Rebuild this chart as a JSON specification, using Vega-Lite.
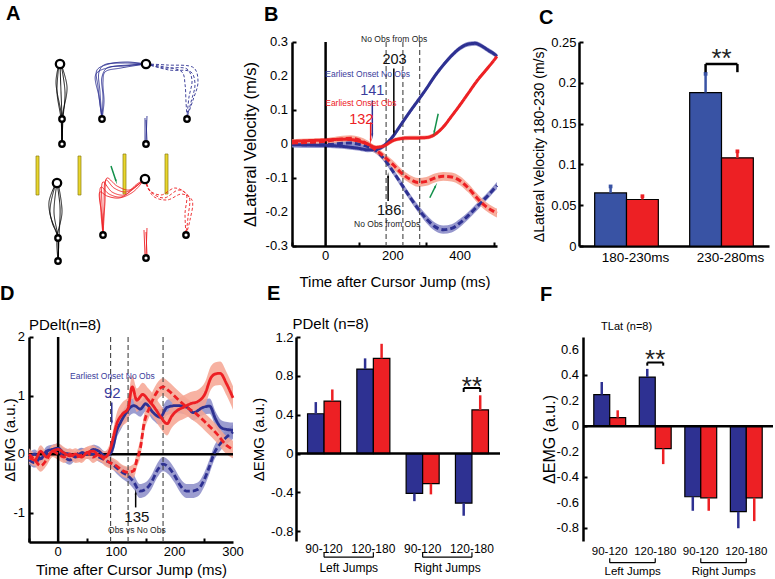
{
"$schema":"https://vega.github.io/schema/vega-lite/v6.json",
"background":"white",
"padding":{"left":0,"top":4,"right":0,"bottom":0},
"config":{
 "font":"Liberation Sans",
 "view":{"stroke":null},
 "axis":{"domainColor":"black","domainWidth":2.5,"tickColor":"black","tickWidth":2,"tickSize":-4,"grid":false,"labelColor":"black","titleColor":"black","titleFontWeight":"normal","labelFontSize":13,"titleFontSize":15,"labelFlush":false,"labelOverlap":false},
 "title":{"fontSize":20,"fontWeight":"bold","anchor":"start","frame":"group","color":"black"}
},
"datasets":{
 "aBars":[{"x1":37,"x2":40,"y1":154,"y2":193},{"x1":79,"x2":82,"y1":154,"y2":193},{"x1":124,"x2":127,"y1":152,"y2":192},{"x1":166,"x2":169,"y1":152,"y2":192}],
 "aCircles":[{"x":61,"y":62,"k":"via"},{"x":63,"y":117,"k":"tgt"},{"x":63,"y":142,"k":"tgt"},{"x":103,"y":117,"k":"tgt"},{"x":147,"y":62,"k":"via"},{"x":188,"y":117,"k":"tgt"},{"x":147,"y":142,"k":"tgt"},{"x":58,"y":181,"k":"via"},{"x":59,"y":236,"k":"tgt"},{"x":59,"y":259,"k":"tgt"},{"x":104,"y":233,"k":"tgt"},{"x":146,"y":177,"k":"via"},{"x":187,"y":233,"k":"tgt"},{"x":147,"y":256,"k":"tgt"}],
 "aArrow":[{"x1":112,"y1":164,"x2":117,"y2":179,"ang":162}],
 "aPaths":[
  {"id":"k1","c":"base","d":"solid","i":0,"x":63,"y":142},{"id":"k1","c":"base","d":"solid","i":1,"x":63,"y":117},{"id":"k1","c":"base","d":"solid","i":2,"x":62,"y":90},{"id":"k1","c":"base","d":"solid","i":3,"x":61,"y":62},
  {"id":"k2","c":"base","d":"solid","i":0,"x":63,"y":142},{"id":"k2","c":"base","d":"solid","i":1,"x":64,"y":117},{"id":"k2","c":"base","d":"solid","i":2,"x":66,"y":90},{"id":"k2","c":"base","d":"solid","i":3,"x":62,"y":62},
  {"id":"k3","c":"base","d":"solid","i":0,"x":63,"y":142},{"id":"k3","c":"base","d":"solid","i":1,"x":62,"y":117},{"id":"k3","c":"base","d":"solid","i":2,"x":58,"y":90},{"id":"k3","c":"base","d":"solid","i":3,"x":60,"y":62},
  {"id":"k4","c":"base","d":"solid","i":0,"x":63,"y":142},{"id":"k4","c":"base","d":"solid","i":1,"x":63,"y":117},{"id":"k4","c":"base","d":"solid","i":2,"x":68,"y":85},{"id":"k4","c":"base","d":"solid","i":3,"x":62,"y":62},
  {"id":"k5","c":"base","d":"solid","i":0,"x":63,"y":142},{"id":"k5","c":"base","d":"solid","i":1,"x":63,"y":117},{"id":"k5","c":"base","d":"solid","i":2,"x":57,"y":80},{"id":"k5","c":"base","d":"solid","i":3,"x":60,"y":62},
  {"id":"bs1","c":"noobs","d":"solid","i":0,"x":146,"y":139},{"id":"bs1","c":"noobs","d":"solid","i":1,"x":146,"y":116},
  {"id":"bs2","c":"noobs","d":"solid","i":0,"x":147,"y":139},{"id":"bs2","c":"noobs","d":"solid","i":1,"x":148,"y":114},
  {"id":"bs3","c":"noobs","d":"solid","i":0,"x":148,"y":139},{"id":"bs3","c":"noobs","d":"solid","i":1,"x":147,"y":118},
  {"id":"b1","c":"noobs","d":"solid","i":0,"x":147,"y":62},{"id":"b1","c":"noobs","d":"solid","i":1,"x":125,"y":61},{"id":"b1","c":"noobs","d":"solid","i":2,"x":105,"y":63},{"id":"b1","c":"noobs","d":"solid","i":3,"x":100,"y":70},{"id":"b1","c":"noobs","d":"solid","i":4,"x":101,"y":90},{"id":"b1","c":"noobs","d":"solid","i":5,"x":103,"y":117},
  {"id":"b2","c":"noobs","d":"solid","i":0,"x":147,"y":62},{"id":"b2","c":"noobs","d":"solid","i":1,"x":125,"y":64},{"id":"b2","c":"noobs","d":"solid","i":2,"x":108,"y":66},{"id":"b2","c":"noobs","d":"solid","i":3,"x":103,"y":75},{"id":"b2","c":"noobs","d":"solid","i":4,"x":104,"y":95},{"id":"b2","c":"noobs","d":"solid","i":5,"x":103,"y":117},
  {"id":"b3","c":"noobs","d":"solid","i":0,"x":147,"y":62},{"id":"b3","c":"noobs","d":"solid","i":1,"x":128,"y":60},{"id":"b3","c":"noobs","d":"solid","i":2,"x":110,"y":62},{"id":"b3","c":"noobs","d":"solid","i":3,"x":98,"y":68},{"id":"b3","c":"noobs","d":"solid","i":4,"x":99,"y":85},{"id":"b3","c":"noobs","d":"solid","i":5,"x":103,"y":117},
  {"id":"b4","c":"noobs","d":"solid","i":0,"x":147,"y":62},{"id":"b4","c":"noobs","d":"solid","i":1,"x":122,"y":66},{"id":"b4","c":"noobs","d":"solid","i":2,"x":106,"y":70},{"id":"b4","c":"noobs","d":"solid","i":3,"x":104,"y":80},{"id":"b4","c":"noobs","d":"solid","i":4,"x":105,"y":100},{"id":"b4","c":"noobs","d":"solid","i":5,"x":103,"y":117},
  {"id":"b5","c":"noobs","d":"solid","i":0,"x":147,"y":62},{"id":"b5","c":"noobs","d":"solid","i":1,"x":130,"y":63},{"id":"b5","c":"noobs","d":"solid","i":2,"x":112,"y":65},{"id":"b5","c":"noobs","d":"solid","i":3,"x":97,"y":72},{"id":"b5","c":"noobs","d":"solid","i":4,"x":100,"y":95},{"id":"b5","c":"noobs","d":"solid","i":5,"x":103,"y":117},
  {"id":"bd1","c":"noobs","d":"dashed","i":0,"x":147,"y":62},{"id":"bd1","c":"noobs","d":"dashed","i":1,"x":165,"y":66},{"id":"bd1","c":"noobs","d":"dashed","i":2,"x":188,"y":67},{"id":"bd1","c":"noobs","d":"dashed","i":3,"x":193,"y":78},{"id":"bd1","c":"noobs","d":"dashed","i":4,"x":190,"y":95},{"id":"bd1","c":"noobs","d":"dashed","i":5,"x":188,"y":115},
  {"id":"bd2","c":"noobs","d":"dashed","i":0,"x":147,"y":62},{"id":"bd2","c":"noobs","d":"dashed","i":1,"x":170,"y":68},{"id":"bd2","c":"noobs","d":"dashed","i":2,"x":192,"y":70},{"id":"bd2","c":"noobs","d":"dashed","i":3,"x":196,"y":82},{"id":"bd2","c":"noobs","d":"dashed","i":4,"x":192,"y":100},{"id":"bd2","c":"noobs","d":"dashed","i":5,"x":188,"y":115},
  {"id":"bd3","c":"noobs","d":"dashed","i":0,"x":147,"y":62},{"id":"bd3","c":"noobs","d":"dashed","i":1,"x":160,"y":64},{"id":"bd3","c":"noobs","d":"dashed","i":2,"x":183,"y":70},{"id":"bd3","c":"noobs","d":"dashed","i":3,"x":186,"y":82},{"id":"bd3","c":"noobs","d":"dashed","i":4,"x":187,"y":100},{"id":"bd3","c":"noobs","d":"dashed","i":5,"x":188,"y":115},
  {"id":"bd4","c":"noobs","d":"dashed","i":0,"x":147,"y":62},{"id":"bd4","c":"noobs","d":"dashed","i":1,"x":168,"y":63},{"id":"bd4","c":"noobs","d":"dashed","i":2,"x":195,"y":66},{"id":"bd4","c":"noobs","d":"dashed","i":3,"x":199,"y":80},{"id":"bd4","c":"noobs","d":"dashed","i":4,"x":194,"y":98},{"id":"bd4","c":"noobs","d":"dashed","i":5,"x":188,"y":115},
  {"id":"k6","c":"base","d":"solid","i":0,"x":59,"y":259},{"id":"k6","c":"base","d":"solid","i":1,"x":59,"y":236},{"id":"k6","c":"base","d":"solid","i":2,"x":55,"y":210},{"id":"k6","c":"base","d":"solid","i":3,"x":58,"y":181},
  {"id":"k7","c":"base","d":"solid","i":0,"x":59,"y":259},{"id":"k7","c":"base","d":"solid","i":1,"x":59,"y":236},{"id":"k7","c":"base","d":"solid","i":2,"x":51,"y":210},{"id":"k7","c":"base","d":"solid","i":3,"x":57,"y":181},
  {"id":"k8","c":"base","d":"solid","i":0,"x":59,"y":259},{"id":"k8","c":"base","d":"solid","i":1,"x":60,"y":236},{"id":"k8","c":"base","d":"solid","i":2,"x":61,"y":205},{"id":"k8","c":"base","d":"solid","i":3,"x":58,"y":181},
  {"id":"k9","c":"base","d":"solid","i":0,"x":59,"y":259},{"id":"k9","c":"base","d":"solid","i":1,"x":59,"y":236},{"id":"k9","c":"base","d":"solid","i":2,"x":53,"y":220},{"id":"k9","c":"base","d":"solid","i":3,"x":50,"y":200},{"id":"k9","c":"base","d":"solid","i":4,"x":57,"y":181},
  {"id":"k10","c":"base","d":"solid","i":0,"x":59,"y":259},{"id":"k10","c":"base","d":"solid","i":1,"x":58,"y":236},{"id":"k10","c":"base","d":"solid","i":2,"x":63,"y":210},{"id":"k10","c":"base","d":"solid","i":3,"x":59,"y":181},
  {"id":"rs1","c":"obs","d":"solid","i":0,"x":146,"y":253},{"id":"rs1","c":"obs","d":"solid","i":1,"x":145,"y":228},
  {"id":"rs2","c":"obs","d":"solid","i":0,"x":147,"y":253},{"id":"rs2","c":"obs","d":"solid","i":1,"x":148,"y":226},
  {"id":"rs3","c":"obs","d":"solid","i":0,"x":148,"y":253},{"id":"rs3","c":"obs","d":"solid","i":1,"x":147,"y":230},
  {"id":"r1","c":"obs","d":"solid","i":0,"x":146,"y":177},{"id":"r1","c":"obs","d":"solid","i":1,"x":135,"y":186},{"id":"r1","c":"obs","d":"solid","i":2,"x":125,"y":193},{"id":"r1","c":"obs","d":"solid","i":3,"x":113,"y":190},{"id":"r1","c":"obs","d":"solid","i":4,"x":104,"y":180},{"id":"r1","c":"obs","d":"solid","i":5,"x":103,"y":205},{"id":"r1","c":"obs","d":"solid","i":6,"x":104,"y":233},
  {"id":"r2","c":"obs","d":"solid","i":0,"x":146,"y":177},{"id":"r2","c":"obs","d":"solid","i":1,"x":137,"y":184},{"id":"r2","c":"obs","d":"solid","i":2,"x":127,"y":190},{"id":"r2","c":"obs","d":"solid","i":3,"x":115,"y":186},{"id":"r2","c":"obs","d":"solid","i":4,"x":107,"y":178},{"id":"r2","c":"obs","d":"solid","i":5,"x":105,"y":205},{"id":"r2","c":"obs","d":"solid","i":6,"x":104,"y":233},
  {"id":"r3","c":"obs","d":"solid","i":0,"x":146,"y":177},{"id":"r3","c":"obs","d":"solid","i":1,"x":133,"y":188},{"id":"r3","c":"obs","d":"solid","i":2,"x":122,"y":195},{"id":"r3","c":"obs","d":"solid","i":3,"x":110,"y":192},{"id":"r3","c":"obs","d":"solid","i":4,"x":102,"y":185},{"id":"r3","c":"obs","d":"solid","i":5,"x":102,"y":210},{"id":"r3","c":"obs","d":"solid","i":6,"x":104,"y":233},
  {"id":"r4","c":"obs","d":"solid","i":0,"x":146,"y":177},{"id":"r4","c":"obs","d":"solid","i":1,"x":138,"y":182},{"id":"r4","c":"obs","d":"solid","i":2,"x":130,"y":188},{"id":"r4","c":"obs","d":"solid","i":3,"x":118,"y":184},{"id":"r4","c":"obs","d":"solid","i":4,"x":108,"y":176},{"id":"r4","c":"obs","d":"solid","i":5,"x":106,"y":200},{"id":"r4","c":"obs","d":"solid","i":6,"x":104,"y":233},
  {"id":"r5","c":"obs","d":"solid","i":0,"x":146,"y":177},{"id":"r5","c":"obs","d":"solid","i":1,"x":134,"y":190},{"id":"r5","c":"obs","d":"solid","i":2,"x":120,"y":196},{"id":"r5","c":"obs","d":"solid","i":3,"x":108,"y":194},{"id":"r5","c":"obs","d":"solid","i":4,"x":101,"y":190},{"id":"r5","c":"obs","d":"solid","i":5,"x":103,"y":215},{"id":"r5","c":"obs","d":"solid","i":6,"x":104,"y":233},
  {"id":"rd1","c":"obs","d":"dashed","i":0,"x":146,"y":177},{"id":"rd1","c":"obs","d":"dashed","i":1,"x":152,"y":190},{"id":"rd1","c":"obs","d":"dashed","i":2,"x":165,"y":196},{"id":"rd1","c":"obs","d":"dashed","i":3,"x":180,"y":188},{"id":"rd1","c":"obs","d":"dashed","i":4,"x":190,"y":195},{"id":"rd1","c":"obs","d":"dashed","i":5,"x":189,"y":215},{"id":"rd1","c":"obs","d":"dashed","i":6,"x":187,"y":233},
  {"id":"rd2","c":"obs","d":"dashed","i":0,"x":146,"y":177},{"id":"rd2","c":"obs","d":"dashed","i":1,"x":154,"y":194},{"id":"rd2","c":"obs","d":"dashed","i":2,"x":168,"y":198},{"id":"rd2","c":"obs","d":"dashed","i":3,"x":183,"y":192},{"id":"rd2","c":"obs","d":"dashed","i":4,"x":193,"y":198},{"id":"rd2","c":"obs","d":"dashed","i":5,"x":191,"y":218},{"id":"rd2","c":"obs","d":"dashed","i":6,"x":187,"y":233},
  {"id":"rd3","c":"obs","d":"dashed","i":0,"x":146,"y":177},{"id":"rd3","c":"obs","d":"dashed","i":1,"x":150,"y":188},{"id":"rd3","c":"obs","d":"dashed","i":2,"x":162,"y":193},{"id":"rd3","c":"obs","d":"dashed","i":3,"x":176,"y":186},{"id":"rd3","c":"obs","d":"dashed","i":4,"x":187,"y":192},{"id":"rd3","c":"obs","d":"dashed","i":5,"x":186,"y":212},{"id":"rd3","c":"obs","d":"dashed","i":6,"x":187,"y":233}
 ],
 "bLines":[
  {"s":"NL","t":-100,"v":-0.002,"se":0.007},{"s":"NL","t":-50,"v":-0.003,"se":0.007},{"s":"NL","t":0,"v":-0.004,"se":0.007},{"s":"NL","t":50,"v":-0.007,"se":0.007},{"s":"NL","t":100,"v":-0.013,"se":0.007},{"s":"NL","t":125,"v":-0.017,"se":0.007},{"s":"NL","t":150,"v":-0.016,"se":0.007},{"s":"NL","t":175,"v":-0.004,"se":0.007},{"s":"NL","t":200,"v":0.022,"se":0.007},{"s":"NL","t":225,"v":0.058,"se":0.007},{"s":"NL","t":250,"v":0.094,"se":0.007},{"s":"NL","t":275,"v":0.128,"se":0.007},{"s":"NL","t":300,"v":0.163,"se":0.007},{"s":"NL","t":325,"v":0.2,"se":0.007},{"s":"NL","t":350,"v":0.232,"se":0.007},{"s":"NL","t":375,"v":0.26,"se":0.007},{"s":"NL","t":400,"v":0.282,"se":0.007},{"s":"NL","t":425,"v":0.294,"se":0.007},{"s":"NL","t":445,"v":0.296,"se":0.007},{"s":"NL","t":465,"v":0.288,"se":0.007},{"s":"NL","t":485,"v":0.275,"se":0.007},{"s":"NL","t":500,"v":0.266,"se":0.007},{"s":"NL","t":510,"v":0.258,"se":0.007},
  {"s":"NR","t":-100,"v":-0.001,"se":0.009},{"s":"NR","t":-50,"v":-0.002,"se":0.009},{"s":"NR","t":0,"v":-0.002,"se":0.009},{"s":"NR","t":50,"v":0.002,"se":0.009},{"s":"NR","t":75,"v":0.003,"se":0.009},{"s":"NR","t":100,"v":-0.001,"se":0.009},{"s":"NR","t":125,"v":-0.008,"se":0.009},{"s":"NR","t":150,"v":-0.02,"se":0.009},{"s":"NR","t":175,"v":-0.045,"se":0.009},{"s":"NR","t":200,"v":-0.08,"se":0.009},{"s":"NR","t":225,"v":-0.117,"se":0.01},{"s":"NR","t":250,"v":-0.155,"se":0.01},{"s":"NR","t":275,"v":-0.19,"se":0.011},{"s":"NR","t":300,"v":-0.22,"se":0.012},{"s":"NR","t":325,"v":-0.243,"se":0.012},{"s":"NR","t":350,"v":-0.252,"se":0.012},{"s":"NR","t":375,"v":-0.248,"se":0.012},{"s":"NR","t":400,"v":-0.232,"se":0.012},{"s":"NR","t":425,"v":-0.21,"se":0.011},{"s":"NR","t":450,"v":-0.185,"se":0.011},{"s":"NR","t":475,"v":-0.16,"se":0.01},{"s":"NR","t":500,"v":-0.133,"se":0.01},{"s":"NR","t":510,"v":-0.122,"se":0.01},
  {"s":"OL","t":-100,"v":0.008,"se":0.006},{"s":"OL","t":-50,"v":0.01,"se":0.006},{"s":"OL","t":0,"v":0.012,"se":0.006},{"s":"OL","t":50,"v":0.014,"se":0.006},{"s":"OL","t":75,"v":0.013,"se":0.006},{"s":"OL","t":100,"v":0.008,"se":0.006},{"s":"OL","t":125,"v":0.0,"se":0.006},{"s":"OL","t":150,"v":-0.01,"se":0.006},{"s":"OL","t":175,"v":-0.005,"se":0.006},{"s":"OL","t":200,"v":0.01,"se":0.006},{"s":"OL","t":225,"v":0.016,"se":0.006},{"s":"OL","t":250,"v":0.018,"se":0.006},{"s":"OL","t":275,"v":0.018,"se":0.006},{"s":"OL","t":300,"v":0.019,"se":0.006},{"s":"OL","t":325,"v":0.028,"se":0.006},{"s":"OL","t":350,"v":0.05,"se":0.006},{"s":"OL","t":375,"v":0.082,"se":0.006},{"s":"OL","t":400,"v":0.115,"se":0.006},{"s":"OL","t":425,"v":0.15,"se":0.006},{"s":"OL","t":450,"v":0.185,"se":0.006},{"s":"OL","t":475,"v":0.215,"se":0.006},{"s":"OL","t":500,"v":0.245,"se":0.006},{"s":"OL","t":510,"v":0.258,"se":0.006},
  {"s":"OR","t":-100,"v":0.003,"se":0.008},{"s":"OR","t":-50,"v":0.005,"se":0.008},{"s":"OR","t":0,"v":0.008,"se":0.008},{"s":"OR","t":50,"v":0.015,"se":0.009},{"s":"OR","t":75,"v":0.017,"se":0.009},{"s":"OR","t":100,"v":0.012,"se":0.009},{"s":"OR","t":125,"v":0.0,"se":0.01},{"s":"OR","t":150,"v":-0.018,"se":0.01},{"s":"OR","t":175,"v":-0.038,"se":0.011},{"s":"OR","t":200,"v":-0.06,"se":0.012},{"s":"OR","t":225,"v":-0.085,"se":0.012},{"s":"OR","t":250,"v":-0.103,"se":0.012},{"s":"OR","t":275,"v":-0.113,"se":0.013},{"s":"OR","t":300,"v":-0.11,"se":0.013},{"s":"OR","t":325,"v":-0.1,"se":0.013},{"s":"OR","t":350,"v":-0.095,"se":0.013},{"s":"OR","t":375,"v":-0.097,"se":0.013},{"s":"OR","t":400,"v":-0.108,"se":0.013},{"s":"OR","t":425,"v":-0.13,"se":0.013},{"s":"OR","t":450,"v":-0.158,"se":0.013},{"s":"OR","t":475,"v":-0.182,"se":0.013},{"s":"OR","t":500,"v":-0.198,"se":0.013},{"s":"OR","t":510,"v":-0.203,"se":0.013}
 ],
 "bV":[{"t":180},{"t":230},{"t":280}],
 "zeroT":[{"t":0}],
 "zeroV":[{"v":0}],
 "bYLab":[{"t":-100,"v":0.3,"lab":"0.3"},{"t":-100,"v":0.2,"lab":"0.2"},{"t":-100,"v":0.1,"lab":"0.1"},{"t":-100,"v":0,"lab":"0"},{"t":-100,"v":-0.1,"lab":"-0.1"},{"t":-100,"v":-0.2,"lab":"-0.2"},{"t":-100,"v":-0.3,"lab":"-0.3"}],
 "bXLab":[{"t":0,"v":-0.3,"lab":"0"},{"t":200,"v":-0.3,"lab":"200"},{"t":400,"v":-0.3,"lab":"400"}],
 "bArrows":[
  {"t1":203,"v1":0.222,"t2":203,"v2":0.034,"c":"k","ang":180},
  {"t1":139,"v1":0.128,"t2":139,"v2":0.025,"c":"b","ang":180},
  {"t1":134,"v1":0.064,"t2":134,"v2":0.01,"c":"r","ang":180},
  {"t1":186,"v1":-0.168,"t2":186,"v2":-0.094,"c":"k","ang":0},
  {"t1":335,"v1":0.089,"t2":323,"v2":0.034,"c":"g","ang":192},
  {"t1":310,"v1":-0.158,"t2":327,"v2":-0.124,"c":"g","ang":26}
 ],
 "bText":[
  {"t":204,"v":0.31,"txt":"No Obs from Obs","c":"k","kind":"note"},
  {"t":205,"v":0.247,"txt":"203","c":"k","kind":"value"},
  {"t":125,"v":0.205,"txt":"Earliest Onset No Obs","c":"b","kind":"note"},
  {"t":139,"v":0.157,"txt":"141","c":"b","kind":"value"},
  {"t":105,"v":0.12,"txt":"Earliest Onset Obs","c":"r","kind":"note"},
  {"t":106,"v":0.072,"txt":"132","c":"r","kind":"value"},
  {"t":189,"v":-0.198,"txt":"186","c":"k","kind":"value"},
  {"t":183,"v":-0.236,"txt":"No Obs from Obs","c":"k","kind":"note"}
 ],
 "cBars":[{"win":"180-230ms","cond":"NoObs","v":0.065,"hi":0.073},{"win":"180-230ms","cond":"Obs","v":0.057,"hi":0.061},{"win":"230-280ms","cond":"NoObs","v":0.188,"hi":0.211},{"win":"230-280ms","cond":"Obs","v":0.108,"hi":0.116}],
 "cSig":[{"win":"230-280ms","y1":0.223,"y2":0.213,"ys":0.219}],
 "cSigLegs":[{"win":"230-280ms","cond":"NoObs","y1":0.223,"y2":0.213},{"win":"230-280ms","cond":"Obs","y1":0.223,"y2":0.213}],
 "dLines":[
  {"s":"NL","t":-50,"v":-0.05,"se":0.08},{"s":"NL","t":-40,"v":0.0,"se":0.08},{"s":"NL","t":-30,"v":-0.08,"se":0.08},{"s":"NL","t":-20,"v":0.05,"se":0.08},{"s":"NL","t":-10,"v":0.08,"se":0.08},{"s":"NL","t":0,"v":0.1,"se":0.08},{"s":"NL","t":10,"v":0.02,"se":0.08},{"s":"NL","t":20,"v":0.0,"se":0.08},{"s":"NL","t":30,"v":-0.05,"se":0.08},{"s":"NL","t":40,"v":0.02,"se":0.08},{"s":"NL","t":50,"v":0.0,"se":0.08},{"s":"NL","t":60,"v":0.08,"se":0.08},{"s":"NL","t":70,"v":0.05,"se":0.08},{"s":"NL","t":80,"v":-0.03,"se":0.08},{"s":"NL","t":90,"v":0.02,"se":0.08},{"s":"NL","t":95,"v":0.15,"se":0.1},{"s":"NL","t":100,"v":0.38,"se":0.12},{"s":"NL","t":107,"v":0.54,"se":0.13},{"s":"NL","t":115,"v":0.68,"se":0.13},{"s":"NL","t":124,"v":0.8,"se":0.13},{"s":"NL","t":130,"v":0.83,"se":0.13},{"s":"NL","t":141,"v":0.77,"se":0.13},{"s":"NL","t":150,"v":0.86,"se":0.13},{"s":"NL","t":163,"v":0.71,"se":0.13},{"s":"NL","t":175,"v":0.63,"se":0.13},{"s":"NL","t":187,"v":0.8,"se":0.13},{"s":"NL","t":204,"v":0.83,"se":0.13},{"s":"NL","t":221,"v":0.8,"se":0.13},{"s":"NL","t":232,"v":0.71,"se":0.13},{"s":"NL","t":249,"v":0.8,"se":0.13},{"s":"NL","t":260,"v":0.82,"se":0.13},{"s":"NL","t":270,"v":0.6,"se":0.13},{"s":"NL","t":280,"v":0.45,"se":0.13},{"s":"NL","t":290,"v":0.42,"se":0.13},{"s":"NL","t":300,"v":0.41,"se":0.13},
  {"s":"NR","t":-50,"v":-0.1,"se":0.08},{"s":"NR","t":-40,"v":-0.15,"se":0.08},{"s":"NR","t":-30,"v":-0.05,"se":0.08},{"s":"NR","t":-20,"v":0.0,"se":0.08},{"s":"NR","t":-10,"v":0.05,"se":0.08},{"s":"NR","t":0,"v":0.05,"se":0.08},{"s":"NR","t":10,"v":-0.05,"se":0.08},{"s":"NR","t":20,"v":-0.1,"se":0.08},{"s":"NR","t":30,"v":-0.02,"se":0.08},{"s":"NR","t":40,"v":0.03,"se":0.08},{"s":"NR","t":50,"v":0.0,"se":0.08},{"s":"NR","t":60,"v":0.0,"se":0.08},{"s":"NR","t":70,"v":-0.05,"se":0.08},{"s":"NR","t":80,"v":-0.1,"se":0.08},{"s":"NR","t":90,"v":-0.15,"se":0.08},{"s":"NR","t":100,"v":-0.23,"se":0.1},{"s":"NR","t":110,"v":-0.31,"se":0.11},{"s":"NR","t":120,"v":-0.37,"se":0.12},{"s":"NR","t":130,"v":-0.48,"se":0.12},{"s":"NR","t":140,"v":-0.63,"se":0.12},{"s":"NR","t":150,"v":-0.6,"se":0.12},{"s":"NR","t":160,"v":-0.48,"se":0.12},{"s":"NR","t":170,"v":-0.28,"se":0.12},{"s":"NR","t":180,"v":-0.17,"se":0.12},{"s":"NR","t":190,"v":-0.23,"se":0.12},{"s":"NR","t":200,"v":-0.37,"se":0.12},{"s":"NR","t":210,"v":-0.54,"se":0.12},{"s":"NR","t":220,"v":-0.63,"se":0.12},{"s":"NR","t":230,"v":-0.63,"se":0.12},{"s":"NR","t":240,"v":-0.6,"se":0.12},{"s":"NR","t":250,"v":-0.45,"se":0.12},{"s":"NR","t":260,"v":-0.2,"se":0.12},{"s":"NR","t":267,"v":0.0,"se":0.12},{"s":"NR","t":280,"v":0.2,"se":0.12},{"s":"NR","t":290,"v":0.3,"se":0.12},{"s":"NR","t":300,"v":0.38,"se":0.12},
  {"s":"OL","t":-50,"v":-0.05,"se":0.1},{"s":"OL","t":-40,"v":-0.1,"se":0.1},{"s":"OL","t":-30,"v":0.05,"se":0.1},{"s":"OL","t":-20,"v":-0.05,"se":0.1},{"s":"OL","t":-10,"v":0.05,"se":0.1},{"s":"OL","t":0,"v":0.08,"se":0.1},{"s":"OL","t":10,"v":0.02,"se":0.1},{"s":"OL","t":20,"v":-0.03,"se":0.1},{"s":"OL","t":30,"v":0.0,"se":0.1},{"s":"OL","t":40,"v":-0.05,"se":0.1},{"s":"OL","t":50,"v":0.03,"se":0.1},{"s":"OL","t":60,"v":0.05,"se":0.1},{"s":"OL","t":70,"v":-0.02,"se":0.1},{"s":"OL","t":80,"v":-0.05,"se":0.1},{"s":"OL","t":90,"v":0.1,"se":0.12},{"s":"OL","t":95,"v":0.3,"se":0.15},{"s":"OL","t":100,"v":0.5,"se":0.18},{"s":"OL","t":110,"v":0.68,"se":0.2},{"s":"OL","t":120,"v":0.78,"se":0.2},{"s":"OL","t":127,"v":1.15,"se":0.2},{"s":"OL","t":135,"v":0.92,"se":0.2},{"s":"OL","t":145,"v":1.02,"se":0.2},{"s":"OL","t":155,"v":0.92,"se":0.2},{"s":"OL","t":165,"v":0.8,"se":0.2},{"s":"OL","t":175,"v":0.65,"se":0.2},{"s":"OL","t":187,"v":0.52,"se":0.2},{"s":"OL","t":195,"v":0.65,"se":0.2},{"s":"OL","t":205,"v":0.75,"se":0.2},{"s":"OL","t":215,"v":0.8,"se":0.2},{"s":"OL","t":227,"v":0.86,"se":0.2},{"s":"OL","t":240,"v":0.9,"se":0.2},{"s":"OL","t":252,"v":1.03,"se":0.2},{"s":"OL","t":262,"v":1.3,"se":0.2},{"s":"OL","t":270,"v":1.37,"se":0.2},{"s":"OL","t":278,"v":1.38,"se":0.2},{"s":"OL","t":289,"v":1.2,"se":0.2},{"s":"OL","t":300,"v":0.96,"se":0.2},
  {"s":"OR","t":-50,"v":0.0,"se":0.1},{"s":"OR","t":-40,"v":-0.1,"se":0.1},{"s":"OR","t":-30,"v":-0.2,"se":0.1},{"s":"OR","t":-20,"v":-0.1,"se":0.1},{"s":"OR","t":-10,"v":0.05,"se":0.1},{"s":"OR","t":0,"v":0.0,"se":0.1},{"s":"OR","t":10,"v":-0.05,"se":0.1},{"s":"OR","t":20,"v":0.0,"se":0.1},{"s":"OR","t":30,"v":-0.05,"se":0.1},{"s":"OR","t":40,"v":-0.02,"se":0.1},{"s":"OR","t":50,"v":0.02,"se":0.1},{"s":"OR","t":60,"v":-0.05,"se":0.1},{"s":"OR","t":70,"v":0.0,"se":0.1},{"s":"OR","t":80,"v":-0.1,"se":0.1},{"s":"OR","t":90,"v":-0.15,"se":0.1},{"s":"OR","t":100,"v":-0.2,"se":0.1},{"s":"OR","t":110,"v":-0.28,"se":0.1},{"s":"OR","t":120,"v":-0.31,"se":0.1},{"s":"OR","t":130,"v":-0.28,"se":0.12},{"s":"OR","t":135,"v":-0.1,"se":0.13},{"s":"OR","t":141,"v":0.1,"se":0.15},{"s":"OR","t":147,"v":0.5,"se":0.15},{"s":"OR","t":157,"v":0.8,"se":0.15},{"s":"OR","t":169,"v":1.05,"se":0.15},{"s":"OR","t":180,"v":1.15,"se":0.15},{"s":"OR","t":190,"v":1.08,"se":0.15},{"s":"OR","t":204,"v":0.95,"se":0.15},{"s":"OR","t":221,"v":0.8,"se":0.15},{"s":"OR","t":238,"v":0.68,"se":0.15},{"s":"OR","t":255,"v":0.52,"se":0.15},{"s":"OR","t":272,"v":0.35,"se":0.15},{"s":"OR","t":289,"v":0.15,"se":0.15},{"s":"OR","t":300,"v":0.08,"se":0.15}
 ],
 "dV":[{"t":90},{"t":120},{"t":180}],
 "dYLab":[{"t":-50,"v":2,"lab":"2"},{"t":-50,"v":1,"lab":"1"},{"t":-50,"v":0,"lab":"0"},{"t":-50,"v":-1,"lab":"-1"}],
 "dXLab":[{"t":0,"v":-1.5,"lab":"0"},{"t":100,"v":-1.5,"lab":"100"},{"t":200,"v":-1.5,"lab":"200"},{"t":300,"v":-1.5,"lab":"300"}],
 "dArrows":[{"t1":92,"v1":0.88,"t2":92,"v2":0.54,"c":"b","ang":180},{"t1":133,"v1":-0.91,"t2":133,"v2":-0.66,"c":"k","ang":0}],
 "dText":[
  {"t":93,"v":1.34,"txt":"Earliest Onset No Obs","c":"b","kind":"note"},
  {"t":93,"v":1.05,"txt":"92","c":"b","kind":"value"},
  {"t":135,"v":-1.08,"txt":"135","c":"k","kind":"value"},
  {"t":135,"v":-1.3,"txt":"Obs vs No Obs","c":"k","kind":"note"}
 ],
 "dLabel":[{"t":-50,"v":2.2,"txt":"PDelt(n=8)"}],
 "eBars":[{"g":"L 90-120","cond":"NoObs","v":0.41,"e":0.53},{"g":"L 90-120","cond":"Obs","v":0.54,"e":0.66},{"g":"L 120-180","cond":"NoObs","v":0.87,"e":0.98},{"g":"L 120-180","cond":"Obs","v":0.98,"e":1.13},{"g":"R 90-120","cond":"NoObs","v":-0.41,"e":-0.49},{"g":"R 90-120","cond":"Obs","v":-0.31,"e":-0.42},{"g":"R 120-180","cond":"NoObs","v":-0.51,"e":-0.64},{"g":"R 120-180","cond":"Obs","v":0.45,"e":0.6}],
 "eSig":[{"g":"R 120-180","y1":0.675,"y2":0.634,"ys":0.6}],
 "eSigLegs":[{"g":"R 120-180","cond":"NoObs","y1":0.675,"y2":0.634},{"g":"R 120-180","cond":"Obs","y1":0.675,"y2":0.634}],
 "eLabel":[{"g":"L 90-120","txt":"PDelt (n=8)","y":1.33}],
 "eJumps":[{"g1":"L 90-120","g2":"L 120-180","lab":"Left Jumps","y1":-1.067,"yt":-1.18},{"g1":"R 90-120","g2":"R 120-180","lab":"Right Jumps","y1":-1.067,"yt":-1.18}],
 "eJumpLegs":[{"g":"L 90-120","y1":-1.067,"y2":-1.015},{"g":"L 120-180","y1":-1.067,"y2":-1.015},{"g":"R 90-120","y1":-1.067,"y2":-1.015},{"g":"R 120-180","y1":-1.067,"y2":-1.015}],
 "fBars":[{"g":"L 90-120","cond":"NoObs","v":0.248,"e":0.347},{"g":"L 90-120","cond":"Obs","v":0.068,"e":0.125},{"g":"L 120-180","cond":"NoObs","v":0.386,"e":0.45},{"g":"L 120-180","cond":"Obs","v":-0.175,"e":-0.297},{"g":"R 90-120","cond":"NoObs","v":-0.553,"e":-0.663},{"g":"R 90-120","cond":"Obs","v":-0.561,"e":-0.663},{"g":"R 120-180","cond":"NoObs","v":-0.67,"e":-0.8},{"g":"R 120-180","cond":"Obs","v":-0.561,"e":-0.744}],
 "fYLab":[{"g":"L 90-120","v":0.6,"lab":"0.6"},{"g":"L 90-120","v":0.4,"lab":"0.4"},{"g":"L 90-120","v":0.2,"lab":"0.2"},{"g":"L 90-120","v":0,"lab":"0"},{"g":"L 90-120","v":-0.2,"lab":"-0.2"},{"g":"L 90-120","v":-0.4,"lab":"-0.4"},{"g":"L 90-120","v":-0.6,"lab":"-0.6"},{"g":"L 90-120","v":-0.8,"lab":"-0.8"}],
 "fSig":[{"g":"L 120-180","y1":0.5,"y2":0.475,"ys":0.455}],
 "fSigLegs":[{"g":"L 120-180","cond":"NoObs","y1":0.5,"y2":0.475},{"g":"L 120-180","cond":"Obs","y1":0.5,"y2":0.475}],
 "fLabel":[{"g":"L 90-120","txt":"TLat (n=8)","y":0.78}],
 "fJumps":[{"g1":"L 90-120","g2":"L 120-180","lab":"Left Jumps","y1":-1.07,"yt":-1.145},{"g1":"R 90-120","g2":"R 120-180","lab":"Right Jumps","y1":-1.07,"yt":-1.145}],
 "fJumpLegs":[{"g":"L 90-120","y1":-1.07,"y2":-1.035},{"g":"L 120-180","y1":-1.07,"y2":-1.035},{"g":"R 90-120","y1":-1.07,"y2":-1.035},{"g":"R 120-180","y1":-1.07,"y2":-1.035}]
},
"resolve":{"scale":{"color":"independent","xOffset":"independent","strokeDash":"independent","size":"independent"}},
"vconcat":[
 {"hconcat":[
  {"width":181,"height":230,
   "title":{"text":"A","dx":-23,"offset":18},
   "layer":[
    {"data":{"name":"aBars"},"mark":{"type":"rect","fill":"#e9d62d","stroke":"#8a7c12","strokeWidth":0.7},
     "encoding":{"x":{"field":"x1","type":"quantitative","scale":{"domain":[30,211],"nice":false,"zero":false},"axis":null},"x2":{"field":"x2"},
      "y":{"field":"y1","type":"quantitative","scale":{"domain":[40,270],"nice":false,"zero":false,"reverse":true},"axis":null},"y2":{"field":"y2"}}},
    {"data":{"name":"aPaths"},"mark":{"type":"line","strokeWidth":0.9,"interpolate":"catmull-rom"},
     "encoding":{"x":{"field":"x","type":"quantitative","axis":null},"y":{"field":"y","type":"quantitative","axis":null},
      "order":{"field":"i"},"detail":{"field":"id"},
      "color":{"field":"c","type":"nominal","scale":{"domain":["base","noobs","obs"],"range":["black","#2e3192","#ed2024"]},"legend":null},
      "strokeDash":{"field":"d","type":"nominal","scale":{"domain":["solid","dashed"],"range":[[1,0],[3,2]]},"legend":null}}},
    {"data":{"name":"aCircles"},"mark":{"type":"point","shape":"circle","filled":true,"fill":"white","stroke":"black","strokeWidth":2.3,"opacity":1},
     "encoding":{"x":{"field":"x","type":"quantitative","axis":null},"y":{"field":"y","type":"quantitative","axis":null},
      "size":{"field":"k","type":"nominal","scale":{"domain":["via","tgt"],"range":[70,30]},"legend":null}}},
    {"data":{"name":"aArrow"},"mark":{"type":"rule","strokeWidth":1.5,"color":"#12904a"},
     "encoding":{"x":{"field":"x1","type":"quantitative","axis":null},"y":{"field":"y1","type":"quantitative","axis":null},"x2":{"field":"x2"},"y2":{"field":"y2"}}},
    {"data":{"name":"aArrow"},"mark":{"type":"point","shape":"wedge","filled":true,"size":40,"color":"#12904a","opacity":1},
     "encoding":{"x":{"field":"x2","type":"quantitative","axis":null},"y":{"field":"y2","type":"quantitative","axis":null},"angle":{"field":"ang","type":"quantitative","scale":null}}}
   ],
   "resolve":{"scale":{"color":"independent"}}
  },
  {"width":205,"height":204,
   "title":{"text":"B","dx":-28,"offset":10},
   "layer":[
    {"data":{"name":"bLines"},"mark":{"type":"errorband","interpolate":"monotone","opacity":0.9},
     "encoding":{"x":{"field":"t","type":"quantitative","scale":{"domain":[-100,510],"nice":false},"axis":{"title":"Time after Cursor Jump (ms)","values":[-100,0,100,200,300,400,500],"labels":false,"titlePadding":27}},
      "y":{"field":"v","type":"quantitative","scale":{"domain":[-0.3,0.3],"nice":false},"axis":{"title":"ΔLateral Velocity (m/s)","titleFontSize":16.5,"values":[-0.3,-0.2,-0.1,0,0.1,0.2,0.3],"labels":false,"titlePadding":33}},
      "yError":{"field":"se"},
      "color":{"field":"s","type":"nominal","scale":{"domain":["NL","NR","OL","OR"],"range":["#8b8cc8","#8b8cc8","#f6a592","#f6a592"]},"legend":null}}},
    {"data":{"name":"bV"},"mark":{"type":"rule","strokeWidth":1.1,"strokeDash":[5,3],"color":"#444444"},
     "encoding":{"x":{"field":"t","type":"quantitative"}}},
    {"data":{"name":"zeroT"},"mark":{"type":"rule","strokeWidth":2.5,"color":"black"},"encoding":{"x":{"field":"t","type":"quantitative"}}},
    {"data":{"name":"bLines"},"mark":{"type":"line","interpolate":"monotone","strokeWidth":3},
     "encoding":{"x":{"field":"t","type":"quantitative"},"y":{"field":"v","type":"quantitative"},
      "color":{"field":"s","type":"nominal","scale":{"domain":["NL","NR","OL","OR"],"range":["#2e3192","#2e3192","#ed2024","#ed2024"]},"legend":null},
      "strokeDash":{"field":"s","type":"nominal","scale":{"domain":["NL","NR","OL","OR"],"range":[[1,0],[6,3],[1,0],[6,3]]},"legend":null}}},
    {"data":{"name":"bArrows"},"mark":{"type":"rule","strokeWidth":1.5},
     "encoding":{"x":{"field":"t1","type":"quantitative"},"y":{"field":"v1","type":"quantitative"},"x2":{"field":"t2"},"y2":{"field":"v2"},
      "color":{"field":"c","type":"nominal","scale":{"domain":["k","b","r","g"],"range":["black","#2e3192","#ed2024","#12904a"]},"legend":null}}},
    {"data":{"name":"bArrows"},"mark":{"type":"point","shape":"wedge","filled":true,"size":45,"opacity":1},
     "encoding":{"x":{"field":"t2","type":"quantitative"},"y":{"field":"v2","type":"quantitative"},"angle":{"field":"ang","type":"quantitative","scale":null},
      "color":{"field":"c","type":"nominal","scale":{"domain":["k","b","r","g"],"range":["black","#2e3192","#ed2024","#12904a"]},"legend":null}}},
    {"data":{"name":"bText"},"transform":[{"filter":"datum.kind === 'value'"}],"mark":{"type":"text","baseline":"middle","fontSize":14.5},
     "encoding":{"x":{"field":"t","type":"quantitative"},"y":{"field":"v","type":"quantitative"},"text":{"field":"txt"},
      "color":{"field":"c","type":"nominal","scale":{"domain":["k","b","r"],"range":["#111111","#3a3c9c","#ed2024"]},"legend":null}}},
    {"data":{"name":"bText"},"transform":[{"filter":"datum.kind === 'note'"}],"mark":{"type":"text","baseline":"middle","fontSize":8.5},
     "encoding":{"x":{"field":"t","type":"quantitative"},"y":{"field":"v","type":"quantitative"},"text":{"field":"txt"},
      "color":{"field":"c","type":"nominal","scale":{"domain":["k","b","r"],"range":["#222222","#3a3c9c","#ed2024"]},"legend":null}}},
    {"data":{"name":"bYLab"},"mark":{"type":"text","align":"right","baseline":"middle","dx":-4,"fontSize":13,"color":"black"},
     "encoding":{"x":{"field":"t","type":"quantitative"},"y":{"field":"v","type":"quantitative"},"text":{"field":"lab"}}},
    {"data":{"name":"bXLab"},"mark":{"type":"text","align":"center","baseline":"top","dy":4,"fontSize":13,"color":"black"},
     "encoding":{"x":{"field":"t","type":"quantitative"},"y":{"field":"v","type":"quantitative"},"text":{"field":"lab"}}}
   ],
   "resolve":{"scale":{"color":"independent"}}
  },
  {"width":190,"height":204,
   "title":{"text":"C","dx":-40,"offset":8},
   "layer":[
    {"data":{"name":"cBars"},"mark":{"type":"bar","stroke":"black","strokeWidth":1.2},
     "encoding":{"x":{"field":"win","type":"nominal","scale":{"paddingInner":0.33,"paddingOuter":0.165},"axis":{"title":null,"ticks":false,"labelAngle":0,"labelFontSize":13.5,"labelPadding":4,"labelOffset":9}},
      "xOffset":{"field":"cond","type":"nominal","scale":{"domain":["NoObs","Obs"]}},
      "y":{"field":"v","type":"quantitative","scale":{"domain":[0,0.25],"nice":false},"axis":{"title":"ΔLateral Velocity 180-230 (m/s)","titleFontSize":14,"values":[0,0.05,0.1,0.15,0.2,0.25],"labelExpr":"format(datum.value,'~g')","labelOverlap":false,"labelPadding":7,"titlePadding":4}},
      "color":{"field":"cond","type":"nominal","scale":{"domain":["NoObs","Obs"],"range":["#3953a4","#ed2024"]},"legend":null}}},
    {"data":{"name":"cBars"},"mark":{"type":"rule","strokeWidth":2.5},
     "encoding":{"x":{"field":"win","type":"nominal"},"xOffset":{"field":"cond","type":"nominal"},"y":{"field":"v","type":"quantitative"},"y2":{"field":"hi"},"color":{"field":"cond","type":"nominal","legend":null}}},
    {"data":{"name":"cBars"},"mark":{"type":"point","shape":"square","filled":true,"size":14,"opacity":1},
     "encoding":{"x":{"field":"win","type":"nominal"},"xOffset":{"field":"cond","type":"nominal"},"y":{"field":"hi","type":"quantitative"},"color":{"field":"cond","type":"nominal","legend":null}}},
    {"data":{"name":"cSig"},"mark":{"type":"rule","strokeWidth":2.5,"color":"black"},
     "encoding":{"x":{"field":"win","type":"nominal","bandPosition":0.25},"x2":{"field":"win","bandPosition":0.75},"y":{"field":"y1","type":"quantitative"}}},
    {"data":{"name":"cSigLegs"},"mark":{"type":"rule","strokeWidth":2.5,"color":"black"},
     "encoding":{"x":{"field":"win","type":"nominal"},"xOffset":{"field":"cond","type":"nominal"},"y":{"field":"y1","type":"quantitative"},"y2":{"field":"y2"}}},
    {"data":{"name":"cSig"},"mark":{"type":"text","fontSize":26,"baseline":"alphabetic","color":"#222222","text":"**"},
     "encoding":{"x":{"field":"win","type":"nominal"},"y":{"field":"ys","type":"quantitative"}}}
   ]
  }
 ],"spacing":82,"bounds":"flush","resolve":{"scale":{"color":"independent","xOffset":"independent","strokeDash":"independent","size":"independent"}}},
 {"hconcat":[
  {"width":204,"height":205,
   "title":{"text":"D","dx":-29,"offset":14},
   "layer":[
    {"data":{"name":"dLines"},"mark":{"type":"errorband","interpolate":"monotone","opacity":0.85},
     "encoding":{"x":{"field":"t","type":"quantitative","scale":{"domain":[-50,300],"nice":false},"axis":{"title":"Time after Cursor Jump (ms)","values":[-50,0,50,100,150,200,250,300],"labels":false,"titlePadding":19}},
      "y":{"field":"v","type":"quantitative","scale":{"domain":[-1.5,2],"nice":false},"axis":{"title":"ΔEMG (a.u.)","values":[-1,-0.5,0,0.5,1,1.5,2],"labels":false,"titlePadding":11}},
      "yError":{"field":"se"},
      "color":{"field":"s","type":"nominal","scale":{"domain":["NL","NR","OL","OR"],"range":["#8b8cc8","#8b8cc8","#f6a592","#f6a592"]},"legend":null}}},
    {"data":{"name":"dV"},"mark":{"type":"rule","strokeWidth":1.1,"strokeDash":[5,3],"color":"#444444"},
     "encoding":{"x":{"field":"t","type":"quantitative"}}},
    {"data":{"name":"zeroT"},"mark":{"type":"rule","strokeWidth":2.5,"color":"black"},"encoding":{"x":{"field":"t","type":"quantitative"}}},
    {"data":{"name":"zeroV"},"mark":{"type":"rule","strokeWidth":2.5,"color":"black"},"encoding":{"y":{"field":"v","type":"quantitative"}}},
    {"data":{"name":"dLines"},"mark":{"type":"line","interpolate":"monotone","strokeWidth":2.8},
     "encoding":{"x":{"field":"t","type":"quantitative"},"y":{"field":"v","type":"quantitative"},
      "color":{"field":"s","type":"nominal","scale":{"domain":["NL","NR","OL","OR"],"range":["#2e3192","#2e3192","#ed2024","#ed2024"]},"legend":null},
      "strokeDash":{"field":"s","type":"nominal","scale":{"domain":["NL","NR","OL","OR"],"range":[[1,0],[6,3],[1,0],[6,3]]},"legend":null}}},
    {"data":{"name":"dArrows"},"mark":{"type":"rule","strokeWidth":1.5},
     "encoding":{"x":{"field":"t1","type":"quantitative"},"y":{"field":"v1","type":"quantitative"},"x2":{"field":"t2"},"y2":{"field":"v2"},
      "color":{"field":"c","type":"nominal","scale":{"domain":["k","b"],"range":["black","#2e3192"]},"legend":null}}},
    {"data":{"name":"dArrows"},"mark":{"type":"point","shape":"wedge","filled":true,"size":45,"opacity":1},
     "encoding":{"x":{"field":"t2","type":"quantitative"},"y":{"field":"v2","type":"quantitative"},"angle":{"field":"ang","type":"quantitative","scale":null},
      "color":{"field":"c","type":"nominal","scale":{"domain":["k","b"],"range":["black","#2e3192"]},"legend":null}}},
    {"data":{"name":"dText"},"transform":[{"filter":"datum.kind === 'value'"}],"mark":{"type":"text","baseline":"middle","fontSize":15},
     "encoding":{"x":{"field":"t","type":"quantitative"},"y":{"field":"v","type":"quantitative"},"text":{"field":"txt"},
      "color":{"field":"c","type":"nominal","scale":{"domain":["k","b"],"range":["#111111","#3a3c9c"]},"legend":null}}},
    {"data":{"name":"dText"},"transform":[{"filter":"datum.kind === 'note'"}],"mark":{"type":"text","baseline":"middle","fontSize":8.5},
     "encoding":{"x":{"field":"t","type":"quantitative"},"y":{"field":"v","type":"quantitative"},"text":{"field":"txt"},
      "color":{"field":"c","type":"nominal","scale":{"domain":["k","b"],"range":["#222222","#3a3c9c"]},"legend":null}}},
    {"data":{"name":"dLabel"},"mark":{"type":"text","baseline":"middle","align":"left","fontSize":15,"color":"black"},
     "encoding":{"x":{"field":"t","type":"quantitative"},"y":{"field":"v","type":"quantitative"},"text":{"field":"txt"}}},
    {"data":{"name":"dYLab"},"mark":{"type":"text","align":"right","baseline":"middle","dx":-4,"fontSize":13,"color":"black"},
     "encoding":{"x":{"field":"t","type":"quantitative"},"y":{"field":"v","type":"quantitative"},"text":{"field":"lab"}}},
    {"data":{"name":"dXLab"},"mark":{"type":"text","align":"center","baseline":"top","dy":4,"fontSize":13,"color":"black"},
     "encoding":{"x":{"field":"t","type":"quantitative"},"y":{"field":"v","type":"quantitative"},"text":{"field":"lab"}}}
   ],
   "resolve":{"scale":{"color":"independent"}}
  },
  {"hconcat":[
   {"width":204,"height":204,
    "title":{"text":"E","dx":-29,"offset":13},
    "layer":[
     {"data":{"name":"eBars"},"mark":{"type":"bar","stroke":"black","strokeWidth":1.2},
      "encoding":{"x":{"field":"g","type":"nominal","scale":{"domain":["L 90-120","L 120-180","R 90-120","R 120-180"],"paddingInner":0.33,"paddingOuter":0.234},"axis":{"title":null,"domain":false,"ticks":false,"labelAngle":0,"labelExpr":"substring(datum.label,2)","labelFontSize":12,"labelPadding":2}},
       "xOffset":{"field":"cond","type":"nominal","scale":{"domain":["NoObs","Obs"]}},
       "y":{"field":"v","type":"quantitative","scale":{"domain":[-0.9,1.2],"nice":false},"axis":{"title":"ΔEMG (a.u.)","values":[-0.8,-0.6,-0.4,-0.2,0,0.2,0.4,0.6,0.8,1,1.2],"labelExpr":"abs(round(datum.value*10)) % 4 === 0 ? (datum.value < 0 ? '-' + format(-datum.value,'~g') : format(datum.value,'~g')) : ''","labelOverlap":false,"labelPadding":7,"titlePadding":4}},
       "color":{"field":"cond","type":"nominal","scale":{"domain":["NoObs","Obs"],"range":["#2e3192","#ed2024"]},"legend":null}}},
     {"data":{"name":"eBars"},"mark":{"type":"rule","strokeWidth":2.5},
      "encoding":{"x":{"field":"g","type":"nominal"},"xOffset":{"field":"cond","type":"nominal"},"y":{"field":"v","type":"quantitative"},"y2":{"field":"e"},"color":{"field":"cond","type":"nominal","legend":null}}},
     {"data":{"name":"zeroV"},"mark":{"type":"rule","strokeWidth":2.5,"color":"black"},"encoding":{"y":{"field":"v","type":"quantitative"}}},
     {"data":{"name":"eSig"},"mark":{"type":"rule","strokeWidth":2,"color":"black"},
      "encoding":{"x":{"field":"g","type":"nominal","bandPosition":0.25},"x2":{"field":"g","bandPosition":0.75},"y":{"field":"y1","type":"quantitative"}}},
     {"data":{"name":"eSigLegs"},"mark":{"type":"rule","strokeWidth":2,"color":"black"},
      "encoding":{"x":{"field":"g","type":"nominal"},"xOffset":{"field":"cond","type":"nominal"},"y":{"field":"y1","type":"quantitative"},"y2":{"field":"y2"}}},
     {"data":{"name":"eSig"},"mark":{"type":"text","fontSize":26,"baseline":"alphabetic","color":"#222222","text":"**"},
      "encoding":{"x":{"field":"g","type":"nominal"},"y":{"field":"ys","type":"quantitative"}}},
     {"data":{"name":"eJumps"},"mark":{"type":"rule","strokeWidth":1.2,"color":"black"},
      "encoding":{"x":{"field":"g1","type":"nominal","bandPosition":0.5},"x2":{"field":"g2","bandPosition":0.5},"y":{"field":"y1","type":"quantitative"}}},
     {"data":{"name":"eJumpLegs"},"mark":{"type":"rule","strokeWidth":1.2,"color":"black"},
      "encoding":{"x":{"field":"g","type":"nominal"},"y":{"field":"y1","type":"quantitative"},"y2":{"field":"y2"}}},
     {"data":{"name":"eJumps"},"mark":{"type":"text","fontSize":12,"baseline":"middle","color":"black"},
      "encoding":{"x":{"field":"g1","type":"nominal","bandPosition":1.247},"y":{"field":"yt","type":"quantitative"},"text":{"field":"lab"}}},
     {"data":{"name":"eLabel"},"mark":{"type":"text","fontSize":15,"baseline":"middle","color":"black"},
      "encoding":{"x":{"field":"g","type":"nominal","bandPosition":0.7},"y":{"field":"y","type":"quantitative"},"text":{"field":"txt"}}}
    ]
   },
   {"width":190,"height":204,
    "title":{"text":"F","dx":-43,"offset":16},
    "layer":[
     {"data":{"name":"fBars"},"mark":{"type":"bar","stroke":"black","strokeWidth":1.2},
      "encoding":{"x":{"field":"g","type":"nominal","scale":{"domain":["L 90-120","L 120-180","R 90-120","R 120-180"],"paddingInner":0.3,"paddingOuter":0.237},"axis":{"title":null,"domain":false,"ticks":false,"labelAngle":0,"labelExpr":"substring(datum.label,2)","labelFontSize":11.5,"labelPadding":4}},
       "xOffset":{"field":"cond","type":"nominal","scale":{"domain":["NoObs","Obs"]}},
       "y":{"field":"v","type":"quantitative","scale":{"domain":[-0.9,0.7],"nice":false},"axis":{"title":"ΔEMG (a.u.)","titleFontSize":16,"values":[-0.8,-0.6,-0.4,-0.2,0,0.2,0.4,0.6],"labels":false,"titlePadding":25}},
       "color":{"field":"cond","type":"nominal","scale":{"domain":["NoObs","Obs"],"range":["#2e3192","#ed2024"]},"legend":null}}},
     {"data":{"name":"fBars"},"mark":{"type":"rule","strokeWidth":2.5},
      "encoding":{"x":{"field":"g","type":"nominal"},"xOffset":{"field":"cond","type":"nominal"},"y":{"field":"v","type":"quantitative"},"y2":{"field":"e"},"color":{"field":"cond","type":"nominal","legend":null}}},
     {"data":{"name":"zeroV"},"mark":{"type":"rule","strokeWidth":2.5,"color":"black"},"encoding":{"y":{"field":"v","type":"quantitative"}}},
     {"data":{"name":"fSig"},"mark":{"type":"rule","strokeWidth":2,"color":"black"},
      "encoding":{"x":{"field":"g","type":"nominal","bandPosition":0.25},"x2":{"field":"g","bandPosition":0.75},"y":{"field":"y1","type":"quantitative"}}},
     {"data":{"name":"fSigLegs"},"mark":{"type":"rule","strokeWidth":2,"color":"black"},
      "encoding":{"x":{"field":"g","type":"nominal"},"xOffset":{"field":"cond","type":"nominal"},"y":{"field":"y1","type":"quantitative"},"y2":{"field":"y2"}}},
     {"data":{"name":"fSig"},"mark":{"type":"text","fontSize":26,"baseline":"alphabetic","color":"#222222","text":"**"},
      "encoding":{"x":{"field":"g","type":"nominal"},"y":{"field":"ys","type":"quantitative"}}},
     {"data":{"name":"fJumps"},"mark":{"type":"rule","strokeWidth":1.2,"color":"black"},
      "encoding":{"x":{"field":"g1","type":"nominal","bandPosition":0.5},"x2":{"field":"g2","bandPosition":0.5},"y":{"field":"y1","type":"quantitative"}}},
     {"data":{"name":"fJumpLegs"},"mark":{"type":"rule","strokeWidth":1.2,"color":"black"},
      "encoding":{"x":{"field":"g","type":"nominal"},"y":{"field":"y1","type":"quantitative"},"y2":{"field":"y2"}}},
     {"data":{"name":"fJumps"},"mark":{"type":"text","fontSize":11.5,"baseline":"middle","color":"black"},
      "encoding":{"x":{"field":"g1","type":"nominal","bandPosition":1.22},"y":{"field":"yt","type":"quantitative"},"text":{"field":"lab"}}},
     {"data":{"name":"fLabel"},"mark":{"type":"text","fontSize":11,"baseline":"middle","color":"black"},
      "encoding":{"x":{"field":"g","type":"nominal","bandPosition":1.03},"y":{"field":"y","type":"quantitative"},"text":{"field":"txt"}}},
     {"data":{"name":"fYLab"},"mark":{"type":"text","align":"right","baseline":"middle","dx":-4,"fontSize":13,"color":"black"},
      "encoding":{"x":{"field":"g","type":"nominal","bandPosition":-0.338},"y":{"field":"v","type":"quantitative"},"text":{"field":"lab"}}}
    ]
   }
  ],"spacing":83,"bounds":"flush","resolve":{"scale":{"color":"independent","xOffset":"independent","strokeDash":"independent","size":"independent"}}}
 ],"spacing":63,"bounds":"flush","resolve":{"scale":{"color":"independent","xOffset":"independent","strokeDash":"independent","size":"independent"}}}
],
"spacing":-5
}
